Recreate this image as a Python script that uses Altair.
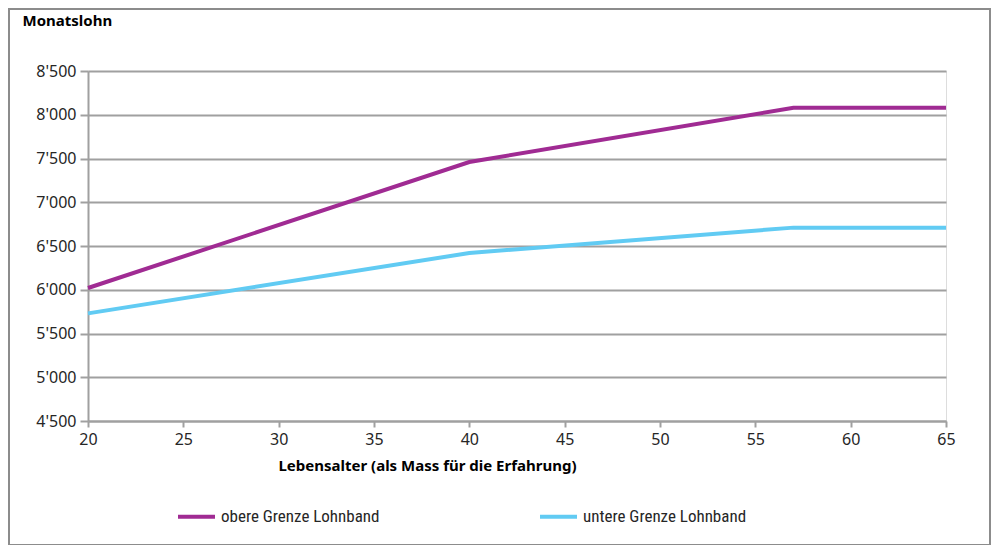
import altair as alt
import pandas as pd

ages = [20, 40, 57, 65]
upper = [6020, 7460, 8080, 8080]
lower = [5730, 6420, 6710, 6710]
series_names = ["obere Grenze Lohnband", "untere Grenze Lohnband"]
colors = ["#A02B93", "#61CBF3"]
y_ticks = [4500, 5000, 5500, 6000, 6500, 7000, 7500, 8000, 8500]
x_ticks = [20, 25, 30, 35, 40, 45, 50, 55, 60, 65]

rows = []
for a, u in zip(ages, upper):
    rows.append({"Alter": a, "Lohn": u, "Serie": series_names[0]})
for a, l in zip(ages, lower):
    rows.append({"Alter": a, "Lohn": l, "Serie": series_names[1]})
df = pd.DataFrame(rows)

FONT = "Noto Sans"
LEGFONT = "Liberation Sans Narrow, Roboto Condensed, Roboto"
GRID = "#A0A0A0"
TXT = "#262626"

lines = alt.Chart(df).mark_line(strokeWidth=4, clip=False).encode(
    x=alt.X("Alter:Q",
            scale=alt.Scale(domain=[20, 65], nice=False, zero=False),
            axis=alt.Axis(values=x_ticks, title="Lebensalter (als Mass für die Erfahrung)",
                          grid=False, domainColor=GRID, domainWidth=2,
                          tickColor=GRID, tickWidth=2, tickSize=6,
                          labelFontSize=16, labelColor=TXT, labelFont=FONT, labelPadding=4,
                          labelFlush=False, labelOverlap=False,
                          titleFont=FONT, titleFontSize=15, titleFontWeight="bold", titleColor="#000000",
                          titleX=339, titleY=44, titleAlign="center", titleBaseline="middle")),
    y=alt.Y("Lohn:Q",
            scale=alt.Scale(domain=[4500, 8500], nice=False, zero=False),
            axis=alt.Axis(values=y_ticks, title="Monatslohn",
                          labelExpr="replace(format(datum.value, ','), ',', \"'\")",
                          grid=True, gridColor=GRID, gridWidth=2,
                          domainColor=GRID, domainWidth=2,
                          tickColor=GRID, tickWidth=2, tickSize=8,
                          labelFontSize=16, labelColor=TXT, labelFont=FONT, labelPadding=4,
                          labelFlush=False, labelOverlap=False,
                          titleFont=FONT, titleFontSize=15, titleFontWeight="bold", titleColor="#000000",
                          titleAngle=0, titleX=-66, titleY=-51, titleAlign="left", titleBaseline="middle")),
    color=alt.Color("Serie:N",
                    scale=alt.Scale(domain=series_names, range=colors),
                    legend=alt.Legend(title=None, orient="none", legendX=88, legendY=425,
                                      direction="horizontal", symbolType="stroke",
                                      symbolSize=1369, symbolStrokeWidth=4,
                                      labelFont=LEGFONT, labelFontSize=17, labelColor=TXT,
                                      labelLimit=0, labelOffset=4, columnPadding=152)),
)

border = alt.Chart(alt.Data(values=[{}])).mark_rect(
    filled=False, stroke="#8C8C8C", strokeWidth=2, clip=False
).encode(
    x=alt.value(-79), x2=alt.value(902), y=alt.value(-62), y2=alt.value(474)
)

chart = alt.layer(border, lines).properties(
    width=858, height=350,
    padding={"left": 80, "top": 63, "right": 46, "bottom": 124},
    autosize=alt.AutoSizeParams(type="none"),
).configure_view(stroke=None).configure(background="white")

chart.save("out.html", embed_options={"renderer": "svg", "actions": False})
